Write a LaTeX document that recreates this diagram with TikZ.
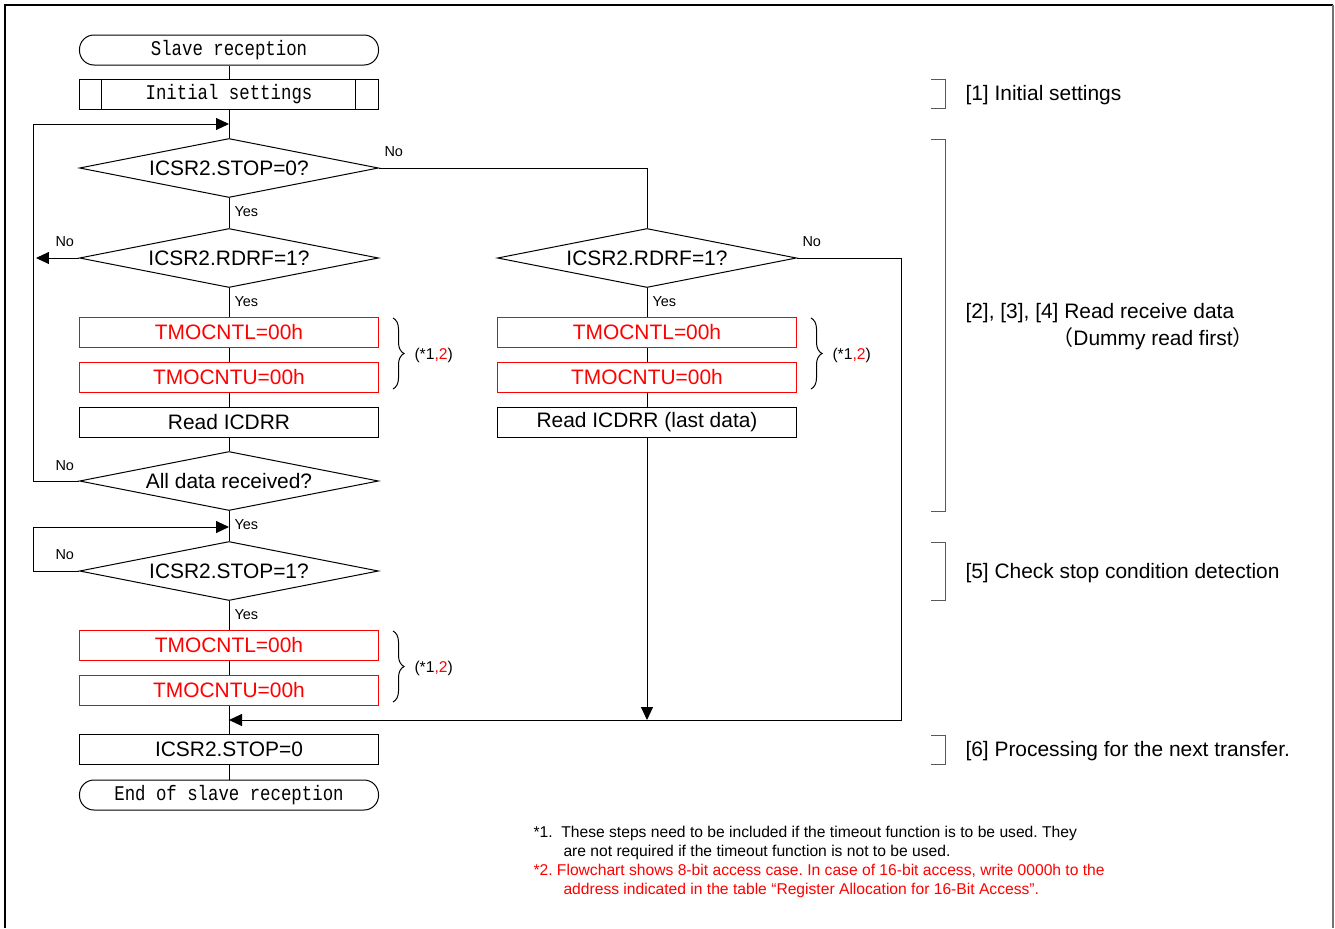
\documentclass[tikz,border=0pt]{standalone}
\usepackage{fontspec}
\setmainfont{Liberation Sans}
\newfontfamily\gothic[FakeStretch=0.83]{Liberation Mono}
\newfontfamily\cjk{Noto Sans CJK JP}
\usetikzlibrary{shapes.geometric,arrows.meta,decorations.pathreplacing}

\begin{document}
\frenchspacing
\begin{tikzpicture}[x=1bp, y=-1bp, line width=1bp,
    terminal/.style={draw, rounded corners=14.5bp, minimum width=299bp, minimum height=30bp, inner sep=0pt, font=\gothic\fontsize{21}{21}\selectfont},
    subproc/.style={draw, minimum width=299bp, minimum height=30bp, inner sep=0pt, font=\gothic\fontsize{21}{21}\selectfont,
      path picture={\draw ([xshift=22bp]path picture bounding box.north west) -- ([xshift=22bp]path picture bounding box.south west)
                          ([xshift=-23bp]path picture bounding box.north east) -- ([xshift=-23bp]path picture bounding box.south east);}},
    decision/.style={diamond, draw, aspect=5, inner sep=0pt, minimum width=299bp, minimum height=59bp, font=\fontsize{21}{21}\selectfont},
    process/.style={draw, minimum width=299bp, minimum height=30bp, inner sep=0pt, font=\fontsize{21}{21}\selectfont},
    timeout/.style={process, draw=red, text=red},
    flow/.style={-{Triangle[length=13bp,width=12bp]}},
    answer/.style={anchor=west, inner sep=0pt, font=\fontsize{14.5}{14.5}\selectfont},
    remark/.style={anchor=west, inner sep=0pt, font=\fontsize{15.7}{15.7}\selectfont},
    brace/.style={decorate, decoration={brace, amplitude=11bp}, line width=1bp},
    bracket/.style={draw=black!65, line width=1bp},
    sect/.style={anchor=west, inner sep=0pt, font=\fontsize{21}{21}\selectfont},
    note/.style={anchor=north west, inner sep=0pt, align=left, font=\fontsize{15.7}{19}\selectfont}]
  \useasboundingbox (0,0) rectangle (1335,928);
  % frame
  \draw[line width=1.5bp] (5,928) -- (5,5) -- (1333,5);
  \draw[line width=1.5bp, black!55] (1333,5) -- (1333,928);

  % main column
  \node[terminal] (start)   at (229,50)  {Slave reception};
  \node[subproc]  (init)    at (229,94)  {Initial settings};
  \node[decision] (stop0)   at (229,168) {ICSR2.STOP=0?};
  \node[decision] (rdrf)    at (229,258) {ICSR2.RDRF=1?};
  \node[timeout]  (tl1)     at (229,332) {TMOCNTL=00h};
  \node[timeout]  (tu1)     at (229,377) {TMOCNTU=00h};
  \node[process]  (rd1)     at (229,422) {Read ICDRR};
  \node[decision] (alldata) at (229,481) {All data received?};
  \node[decision] (stop1)   at (229,571) {ICSR2.STOP=1?};
  \node[timeout]  (tl3)     at (229,645) {TMOCNTL=00h};
  \node[timeout]  (tu3)     at (229,690) {TMOCNTU=00h};
  \node[process]  (stopclr) at (229,749) {ICSR2.STOP=0};
  \node[terminal] (finish)  at (229,795) {End of slave reception};

  % last data column
  \node[decision] (rdrf2)  at (647,258) {ICSR2.RDRF=1?};
  \node[timeout]  (tl2)    at (647,332) {TMOCNTL=00h};
  \node[timeout]  (tu2)    at (647,377) {TMOCNTU=00h};
  \node[process]  (rdlast) at (647,422) {Read ICDRR (last data)};

  \coordinate (j1) at (229,124);
  \coordinate (j2) at (229,527);
  \coordinate (j3) at (229,720);

  \draw (start) -- (init) -- (stop0) -- (rdrf) -- (tl1) -- (tu1) -- (rd1) -- (alldata)
        -- (stop1) -- (tl3) -- (tu3) -- (stopclr) -- (finish);
  \draw (rdrf2) -- (tl2) -- (tu2) -- (rdlast);
  \draw[flow] (alldata.west) -- ++(-45,0) |- (j1);
  \draw[flow] (rdrf.west) -- ++(-43,0);
  \draw[flow] (stop1.west) -- ++(-45,0) |- (j2);
  \draw (stop0.east) -| (rdrf2.north);
  \draw[flow] (rdrf2.east) -- ++(104,0) |- (j3);
  \draw[flow] (rdlast.south) -- (rdlast.south |- j3);

  % yes / no
  \node[answer] (n1) at (384,152) {No};
  \node[answer] (y1) at (234,212) {Yes};
  \node[answer] (n2) at (55,242)  {No};
  \node[answer] (y2) at (234,302) {Yes};
  \node[answer] (n3) at (55,466)  {No};
  \node[answer] (y3) at (234,525) {Yes};
  \node[answer] (n4) at (55,555)  {No};
  \node[answer] (y4) at (234,615) {Yes};
  \node[answer] (n5) at (802,242) {No};
  \node[answer] (y5) at (652,302) {Yes};

  % timeout braces
  \draw[brace] (393,318) -- (393,389);
  \draw[brace] (811,318) -- (811,389);
  \draw[brace] (393,631) -- (393,702);
  \node[remark] (fn1) at (414,355) {(*1\textcolor{red}{,2})};
  \node[remark] (fn2) at (832,355) {(*1\textcolor{red}{,2})};
  \node[remark] (fn3) at (414,668) {(*1\textcolor{red}{,2})};

  % sections
  \draw[bracket] (931,79) -- (945,79) -- (945,108) -- (931,108);
  \draw[bracket] (931,139) -- (945,139) -- (945,511) -- (931,511);
  \draw[bracket] (931,542) -- (945,542) -- (945,600) -- (931,600);
  \draw[bracket] (931,735) -- (945,735) -- (945,764) -- (931,764);
  \node[sect] (s1) at (965,95)  {[1] Initial settings};
  \node[sect] (s2) at (965,313) {[2], [3], [4] Read receive data};
  \node[sect] (s2b) at (1052,339) {{\cjk （}Dummy read first{\cjk ）}};
  \node[sect] (s5) at (965,573) {[5] Check stop condition detection};
  \node[sect] (s6) at (965,751) {[6] Processing for the next transfer.};

  % notes
  \node[note] (note1) at (533,826) {*1.\ \ These steps need to be included if the timeout function is to be used. They\\
    \hspace*{30bp}are not required if the timeout function is not to be used.};
  \node[note, text=red] (note2) at (533,864) {*2. Flowchart shows 8-bit access case. In case of 16-bit access, write 0000h to the\\
    \hspace*{30bp}address indicated in the table “Register Allocation for 16-Bit Access”.};
\end{tikzpicture}
\end{document}
